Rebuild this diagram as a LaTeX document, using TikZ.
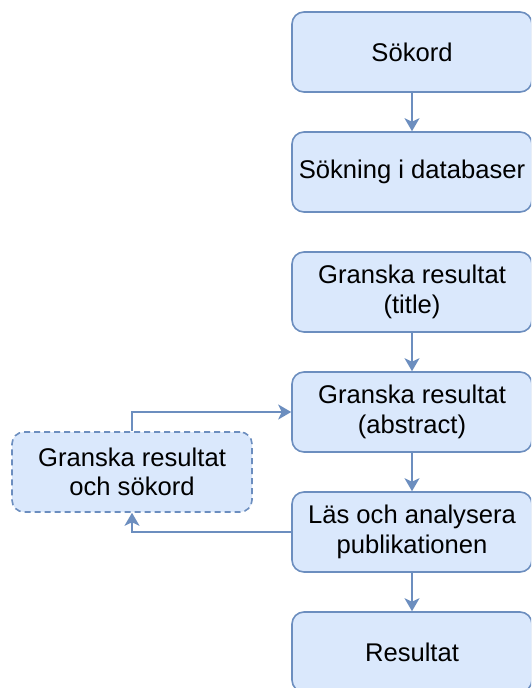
\documentclass[tikz,border=0pt]{standalone}
\usepackage{fontspec}
\setmainfont{Liberation Sans}
\usetikzlibrary{arrows.meta}
\definecolor{boxfill}{HTML}{DAE8FC}
\definecolor{boxline}{HTML}{6C8EBF}
\tikzset{
  stepbox/.style={draw=boxline, fill=boxfill, line width=1.6pt, rounded corners=12pt,
    minimum width=240pt, minimum height=80pt, align=center, inner sep=0pt,
    font=\fontsize{25.6}{29.5}\selectfont, text=black},
  optbox/.style={stepbox, dashed, dash pattern=on 6pt off 4pt},
  flow/.style={draw=boxline, line width=1.6pt,
    -{Stealth[length=13pt,width=15pt,inset=3.5pt]}}
}
\begin{document}
\begin{tikzpicture}[x=1pt,y=-1pt]
  \clip (0,0) rectangle (531,688);
  \fill[white] (0,0) rectangle (531,688);
  % main sequence of steps
  \node[stepbox] (sokord) at (412,52) {Sökord};
  \node[stepbox] (sokning) at (412,172) {Sökning i databaser};
  \node[stepbox] (title) at (412,292) {Granska resultat\\(title)};
  \node[stepbox] (abstract) at (412,412) {Granska resultat\\(abstract)};
  \node[stepbox] (las) at (412,532) {Läs och analysera\\publikationen};
  \node[stepbox] (res) at (412,652) {Resultat};
  % optional revision loop
  \node[optbox] (review) at (132,472) {Granska resultat\\och sökord};
  % connectors
  \draw[flow] (sokord) -- (sokning);
  \draw[flow] (title) -- (abstract);
  \draw[flow] (abstract) -- (las);
  \draw[flow] (las) -- (res);
  \draw[flow] (review.north) |- (abstract.west);
  \draw[flow] (las.west) -| (review.south);
\end{tikzpicture}
\end{document}
